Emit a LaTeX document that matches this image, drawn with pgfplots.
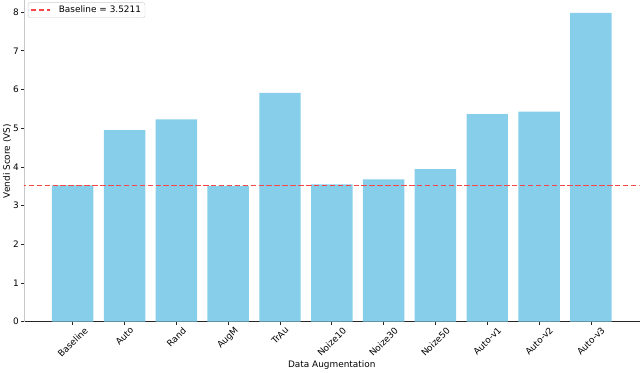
\documentclass[border=0pt]{standalone}
\usepackage{fontspec}
\setmainfont{DejaVu Sans}
\usepackage{pgfplots}
\pgfplotsset{compat=1.18}
\definecolor{skyblue}{RGB}{135,206,235}
\definecolor{refred}{RGB}{250,70,70}
\newcommand{\rl}[1]{\rotatebox{45}{#1}}
\pgfplotsset{common/.style={
  scale only axis,
  width=614pt, height=320.4pt,
  xmin=-0.94, xmax=10.94,
  ymin=0, ymax=8.3}}
\begin{document}
\fontsize{8.9}{10.7}\selectfont
\begin{tikzpicture}
\begin{axis}[
  common,
  axis x line*=bottom,
  axis y line*=left,
  x axis line style={-, black!85, line width=0.8pt},
  y axis line style={-, black!22, line width=0.9pt},
  tick align=outside,
  major tick length=3pt,
  tick style={black!85, line width=0.7pt},
  xtick={0,...,10},
  ytick={0,...,8},
  xticklabels={\rl{Baseline},\rl{Auto},\rl{Rand},\rl{AugM},\rl{TrAu},\rl{Noize10},\rl{Noize30},\rl{Noize50},\rl{Auto-v1},\rl{Auto-v2},\rl{Auto-v3}},
  xticklabel style={anchor=north, inner sep=1.5pt},
  yticklabel style={inner sep=2pt},
  /pgf/number format/assume math mode=true,
  ticklabel style={font=\fontsize{8.9}{10.7}\selectfont},
  label style={font=\fontsize{8.9}{10.7}\selectfont},
  xlabel={Data Augmentation},
  ylabel={Vendi Score (VS)},
  xlabel style={yshift=2pt},
  ylabel style={yshift=-3pt},
]
\addplot[ybar, bar width=0.8, fill=skyblue, draw=none] coordinates {
  (0,3.52) (1,4.95) (2,5.23) (3,3.50) (4,5.91) (5,3.55)
  (6,3.68) (7,3.94) (8,5.36) (9,5.43) (10,7.98)};
\end{axis}
\begin{axis}[
  common,
  hide axis,
  legend style={at={(0.0065,0.994)}, anchor=north west,
    draw=black!20, rounded corners=2pt, fill=white,
    inner xsep=2pt, inner ysep=1.5pt,
    font=\fontsize{8.9}{10.7}\selectfont},
  legend cell align=left,
  legend image code/.code={\draw[#1] (0pt,0pt) -- (19pt,0pt); \path (25pt,0pt);},
]
\addplot[sharp plot, mark=none, color=refred, line width=1.5pt,
  dash pattern=on 5.5pt off 2.4pt] coordinates {
  (-1,3.5211) (11,3.5211)};
\addlegendentry{Baseline = 3.5211}
\end{axis}
\end{tikzpicture}
\end{document}
